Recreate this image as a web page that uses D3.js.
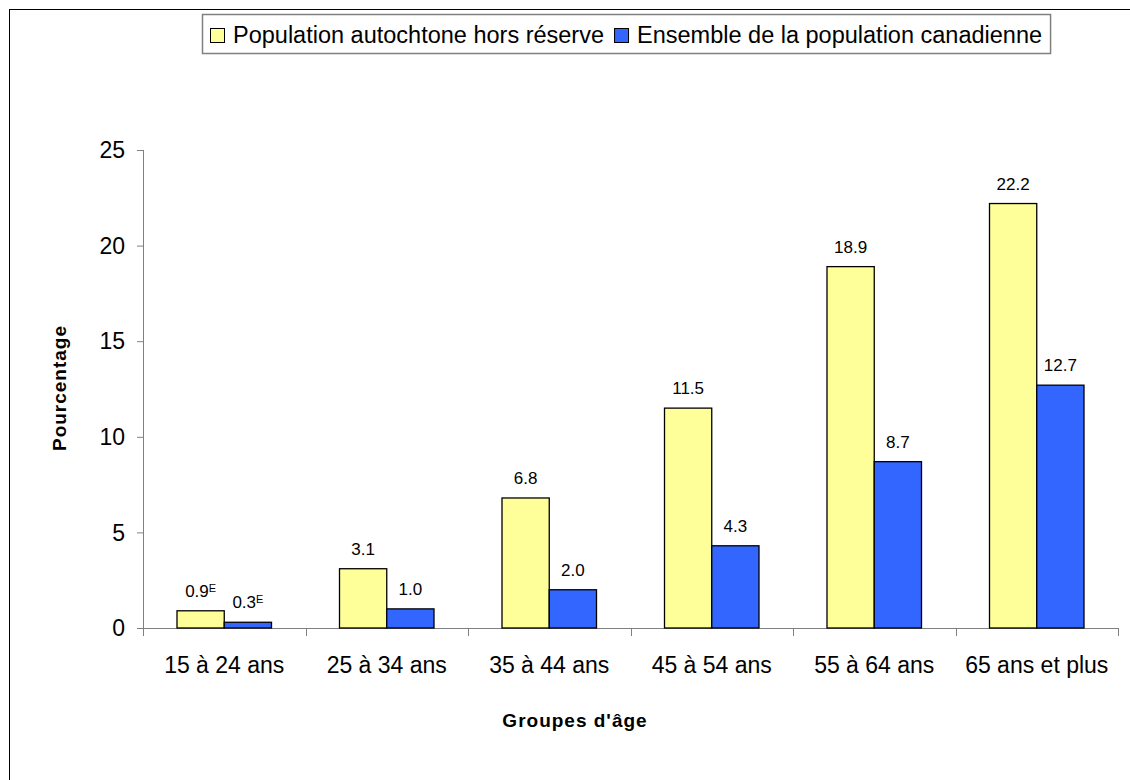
<!DOCTYPE html>
<html>
<head>
<meta charset="utf-8">
<script src="https://cdn.jsdelivr.net/npm/d3@7"></script>
<style>
  body { margin: 0; background: #fff; }
  text { font-family: "Liberation Sans", Arial, sans-serif; fill: #000; }
</style>
</head>
<body>
<div id="chart"></div>
<script>
// data
const ageGroups = ["15 à 24 ans", "25 à 34 ans", "35 à 44 ans", "45 à 54 ans", "55 à 64 ans", "65 ans et plus"];
const seriesNames = ["Population autochtone hors réserve", "Ensemble de la population canadienne"];
const autochtone = [0.9, 3.1, 6.8, 11.5, 18.9, 22.2];
const canadienne = [0.3, 1.0, 2.0, 4.3, 8.7, 12.7];
const estimateFlags = [true, false, false, false, false, false]; // "E" superscript
const yTicks = [0, 5, 10, 15, 20, 25];
const colors = ["#FFFF99", "#3366FF"];

const W = 1130, H = 780;
const margin = {top: 150, right: 12, bottom: 152, left: 143};
const width = W - margin.left - margin.right;
const height = H - margin.top - margin.bottom;

const svg = d3.select("#chart").append("svg")
    .attr("width", W)
    .attr("height", H);

// outer frame (runs off the page on the right and bottom)
svg.append("rect")
    .attr("x", 9.5).attr("y", 9.5)
    .attr("width", W + 20).attr("height", H + 20)
    .attr("fill", "none").attr("stroke", "#000");

const g = svg.append("g")
    .attr("transform", `translate(${margin.left}, ${margin.top})`);

const x0 = d3.scaleBand().domain(ageGroups).range([0, width]).paddingInner(0).paddingOuter(0);
const x1 = d3.scaleBand().domain([0, 1]).range([34, x0.bandwidth() - 34]);
const y = d3.scaleLinear().domain([0, 25]).range([height, 0]);

// y axis
g.append("line")
    .attr("x1", 0.5).attr("x2", 0.5).attr("y1", 0).attr("y2", height)
    .attr("stroke", "#808080");
g.selectAll(".ytick").data(yTicks).enter().append("line")
    .attr("x1", -6).attr("x2", 0)
    .attr("y1", d => y(d) + 0.5).attr("y2", d => y(d) + 0.5)
    .attr("stroke", "#808080");
g.selectAll(".ylab").data(yTicks).enter().append("text")
    .attr("x", -18).attr("y", d => y(d)).attr("dy", "0.36em")
    .attr("text-anchor", "end").style("font-size", "23px")
    .text(d => d);

// x axis
g.append("line")
    .attr("x1", 0).attr("x2", width).attr("y1", height + 0.5).attr("y2", height + 0.5)
    .attr("stroke", "#808080");
const bounds = ageGroups.map(d => x0(d)).concat([width]);
g.selectAll(".xtick").data(bounds).enter().append("line")
    .attr("x1", d => Math.round(d) + 0.5).attr("x2", d => Math.round(d) + 0.5)
    .attr("y1", height).attr("y2", height + 8)
    .attr("stroke", "#808080");
g.selectAll(".xlab").data(ageGroups).enter().append("text")
    .attr("x", d => x0(d) + x0.bandwidth() / 2)
    .attr("y", height + 45)
    .attr("text-anchor", "middle").style("font-size", "23px")
    .text(d => d);

// bars
const rows = ageGroups.map((a, i) => ({age: a, vals: [autochtone[i], canadienne[i]], est: estimateFlags[i]}));
const grp = g.selectAll(".grp").data(rows).enter().append("g")
    .attr("transform", d => `translate(${x0(d.age)}, 0)`);

grp.selectAll("rect").data(d => d.vals.map((v, k) => ({v, k}))).enter().append("rect")
    .attr("x", d => x1(d.k))
    .attr("y", d => y(d.v))
    .attr("width", x1.bandwidth())
    .attr("height", d => height - y(d.v))
    .attr("fill", d => colors[d.k])
    .attr("stroke", "#000").attr("stroke-width", 1.3);

grp.each(function (row) {
    row.vals.forEach((v, k) => {
        const t = d3.select(this).append("text")
            .attr("x", x1(k) + x1.bandwidth() / 2)
            .attr("y", y(v) - 14)
            .attr("text-anchor", "middle")
            .style("font-size", "17px");
        t.append("tspan").text(v.toFixed(1));
        if (row.est) {
            t.append("tspan").attr("dy", -5).style("font-size", "11px").text("E");
        }
    });
});

// axis titles
svg.append("text")
    .attr("x", 575).attr("y", 727)
    .attr("text-anchor", "middle")
    .style("font-size", "19px").style("font-weight", "bold").style("letter-spacing", "1px")
    .text("Groupes d'âge");
svg.append("text")
    .attr("transform", "translate(66, 388) rotate(-90)")
    .attr("text-anchor", "middle")
    .style("font-size", "19px").style("font-weight", "bold").style("letter-spacing", "1px")
    .text("Pourcentage");

// legend
const legend = svg.append("g");
const legBox = legend.append("rect")
    .attr("y", 14.5).attr("height", 39)
    .attr("fill", "#fff").attr("stroke", "#808080").attr("stroke-width", 1.5);
let lx = 210;
seriesNames.forEach((name, k) => {
    legend.append("rect")
        .attr("x", lx + 0.5).attr("y", 28.5).attr("width", 14).attr("height", 14)
        .attr("fill", colors[k]).attr("stroke", "#000");
    const t = legend.append("text")
        .attr("x", lx + 23).attr("y", 43)
        .style("font-size", "23.5px")
        .text(name);
    lx = lx + 23 + t.node().getComputedTextLength() + 10;
});
legBox.attr("x", 202.5).attr("width", lx - 202 - 2);
</script>
</body>
</html>
